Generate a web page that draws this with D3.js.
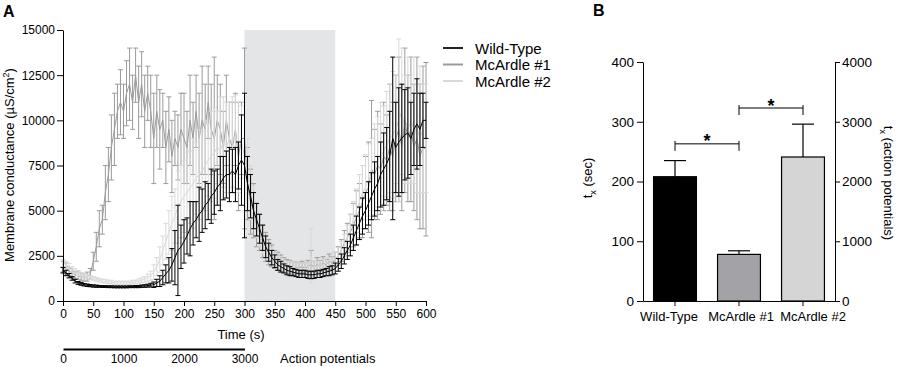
<!DOCTYPE html>
<html>
<head>
<meta charset="utf-8">
<script src="https://cdn.jsdelivr.net/npm/d3@7"></script>
<style>
  body { margin: 0; background: #fff; }
  svg { display: block; font-family: "Liberation Sans", Arial, sans-serif; }
</style>
</head>
<body>
<svg id="chart" width="897" height="367"></svg>
<script>
// Panel A: membrane conductance, one reading every 5 s (0..600 s)
var times = d3.range(0, 601, 5);

var wtMean = [
  1700,1550,1400,1250,1100,1000,950,900,870,850,
  830,820,810,800,800,790,790,780,780,780,
  780,780,790,790,800,800,820,830,850,880,
  900,1000,1100,1300,1500,1700,2000,2400,2800,3000,
  3300,3600,4000,4300,4500,4800,5000,5300,5500,5800,
  6000,6300,6500,6800,7000,7000,7200,7000,7500,7800,
  7500,6500,5800,5000,4500,4000,3500,3000,2700,2400,
  2200,2000,1900,1800,1700,1650,1600,1550,1500,1500,
  1500,1450,1450,1450,1500,1500,1550,1600,1650,1700,
  1800,2000,2200,2500,2800,3100,3500,3900,4300,4700,
  5000,5400,5800,6200,6500,7000,7300,7600,8000,9000,
  8500,8800,9000,9200,9300,9000,9500,9800,9500,10000,
  10000
];
var wtErr = [
  150,150,120,100,100,80,80,70,70,60,
  60,60,50,50,50,50,50,50,50,50,
  50,50,50,50,60,60,60,70,80,100,
  150,200,300,400,500,700,900,1500,2500,1200,
  1200,1000,1500,1200,1000,1500,1200,1300,1000,1500,
  1200,1000,1500,1200,1300,1500,1200,1500,1300,2500,
  4000,1500,1200,1000,900,800,700,600,500,400,
  350,300,300,250,250,250,200,200,200,200,
  200,200,200,200,200,200,200,200,250,250,
  300,350,400,450,500,600,700,800,900,1000,
  1000,1200,1300,1500,1500,1800,2000,2000,2500,4500,
  2500,3000,3000,2500,2500,2000,2000,2500,2000,1500,
  1000
];

var mc1Mean = [
  1900,1800,1650,1550,1450,1400,1350,1300,1350,1500,
  2200,3000,4000,4500,6000,7000,8500,9500,10500,11000,
  10500,11500,12000,11000,12500,11000,12000,10500,11500,10500,
  9000,10500,9500,10000,8500,9500,8000,9000,8500,9500,
  9000,8500,10000,9000,10500,9000,10000,9500,11000,9500,
  9000,10000,9500,8500,10000,9000,8500,9500,8000,9000,
  9000,6500,5500,5000,4200,3800,3300,3000,2700,2500,
  2300,2200,2100,2000,1900,1900,1800,1850,1800,1900,
  1800,1900,2000,1900,2000,1950,2100,2000,2200,2100,
  2300,2500,2800,3200,3500,3800,4200,4600,5000,5500,
  6000,6300,7300,7000,7500,7300,8000,7800,8500,8000,
  9000,9500,8500,10000,9000,9500,8500,9000,8000,8500,
  8400
];
var mc1Err = [
  300,300,250,250,200,200,200,200,250,300,
  500,800,1000,800,1500,1500,1800,2000,1500,1800,
  1500,1800,2000,1500,1500,2000,1800,2000,1500,2000,
  2500,2000,2200,1500,2000,1800,2000,1500,1800,2000,
  2500,2000,2500,2000,2000,2500,3000,2500,2000,2500,
  4500,2500,2500,2000,2500,2000,2500,2000,3000,2000,
  5000,2000,1800,1500,1200,1000,900,800,700,600,
  500,500,450,400,400,350,350,300,300,300,
  300,350,800,300,400,300,350,300,400,350,
  400,500,600,700,800,1000,1200,1500,1500,2000,
  2000,2500,3800,2500,3000,2500,3000,2500,3500,3000,
  3500,4000,3500,4000,3500,4000,3500,4500,4000,4500,
  4800
];

var mc2Mean = [
  2100,2000,1900,1750,1650,1550,1450,1400,1350,1300,
  1250,1200,1150,1100,1100,1050,1050,1000,1000,1000,
  1000,1000,1000,1050,1050,1100,1150,1200,1300,1400,
  1600,1900,2300,2800,3300,3800,4300,4700,5200,5500,
  5800,6000,6300,6500,6800,7000,7200,7500,7800,8000,
  8200,8500,8300,8800,8500,9000,8800,9200,8500,8800,
  8000,7000,6000,5200,4500,3800,3300,3000,2700,2500,
  2300,2200,2100,2000,1900,1900,1850,1800,1800,1800,
  1800,1800,2500,1900,1900,2000,2000,2100,2100,2200,
  2300,2500,2800,3100,3500,4000,4500,5000,5500,6000,
  6300,6700,7000,7300,7700,8000,8300,8600,9000,9200,
  9500,10000,10500,9500,10000,9500,10000,9000,9500,9000,
  9000
];
var mc2Err = [
  200,200,180,160,150,140,130,120,110,100,
  100,100,100,100,100,100,100,100,100,100,
  100,100,100,100,100,120,130,150,200,250,
  400,500,700,800,1000,1200,1500,1500,2000,2000,
  2000,2200,2000,2500,2000,2500,2200,2500,2000,2500,
  2500,2000,3000,2500,2500,2000,2500,2200,2500,2000,
  3000,2000,1500,1200,1000,800,700,600,500,450,
  400,400,350,350,300,300,300,300,300,300,
  300,300,1500,300,300,300,300,300,300,350,
  400,450,500,600,700,800,1000,1200,1500,1500,
  1800,2000,2000,2500,2500,3000,2500,3000,3000,3500,
  3000,4500,3500,3000,3500,3000,3500,3000,3500,3000,
  3000
];

var seriesNames = ["Wild-Type", "McArdle #1", "McArdle #2"];
var yTicksA = [0, 2500, 5000, 7500, 10000, 12500, 15000];
var xTicksA = d3.range(0, 601, 50);
var apTicks = [0, 1000, 2000, 3000];
var stimWindow = [300, 450];

// Panel B: t_x per group
var groups = ["Wild-Type", "McArdle #1", "McArdle #2"];
var txMean = [208, 78, 241];
var txErr = [27, 6, 55];
var yTicksB = [0, 100, 200, 300, 400];
var yTicksB2 = [0, 1000, 2000, 3000, 4000];
var sigPairs = [[0, 1, 263], [1, 2, 323]];

var lineColors = ["#000000", "#9b9b9b", "#d9d9d9"];
var barColors = ["#000000", "#a3a3a7", "#d5d5d5"];

var svg = d3.select("#chart");
var font = '"Liberation Sans", Arial, sans-serif';
var fmt = d3.format("d");

// ---------- Panel A ----------
var x = d3.scaleLinear().domain([0, 600]).range([63, 426]);
var y = d3.scaleLinear().domain([0, 15000]).range([301, 30]);

svg.append("rect")
  .attr("x", x(stimWindow[0]))
  .attr("y", y(15000))
  .attr("width", x(stimWindow[1]) - x(stimWindow[0]))
  .attr("height", y(0) - y(15000))
  .attr("fill", "#e4e5e7");

var series = [
  { mean: mc1Mean, err: mc1Err, color: lineColors[1] },
  { mean: mc2Mean, err: mc2Err, color: lineColors[2] },
  { mean: wtMean, err: wtErr, color: lineColors[0] }
];

var line = d3.line()
  .x(function(d) { return x(d.t); })
  .y(function(d) { return y(d.m); });

series.forEach(function(s) {
  var pts = times.map(function(t, i) { return { t: t, m: s.mean[i], e: s.err[i] }; });
  var g = svg.append("g").attr("stroke", s.color).attr("fill", "none").attr("stroke-width", 1);
  g.append("path").attr("d", line(pts));
  var eb = g.selectAll("g.eb").data(pts).enter().append("g");
  eb.append("line")
    .attr("x1", d => x(d.t)).attr("x2", d => x(d.t))
    .attr("y1", d => y(d.m - d.e)).attr("y2", d => y(d.m + d.e));
  eb.append("line")
    .attr("x1", d => x(d.t) - 2.5).attr("x2", d => x(d.t) + 2.5)
    .attr("y1", d => y(d.m + d.e)).attr("y2", d => y(d.m + d.e));
  eb.append("line")
    .attr("x1", d => x(d.t) - 2.5).attr("x2", d => x(d.t) + 2.5)
    .attr("y1", d => y(d.m - d.e)).attr("y2", d => y(d.m - d.e));
});

function styleAxis(g, size) {
  g.attr("font-family", font).attr("font-size", size);
  g.selectAll("text").attr("fill", "#000");
  g.selectAll("line,path").attr("stroke", "#000");
}

svg.append("g")
  .attr("transform", "translate(63,0)")
  .call(d3.axisLeft(y).tickValues(yTicksA).tickSize(6).tickSizeOuter(0).tickPadding(2).tickFormat(fmt))
  .call(styleAxis, 12);

svg.append("g")
  .attr("transform", "translate(0,301)")
  .call(d3.axisBottom(x).tickValues(xTicksA).tickSize(5).tickSizeOuter(0).tickPadding(3).tickFormat(fmt))
  .call(styleAxis, 12);

svg.append("text").attr("x", 241).attr("y", 339).attr("text-anchor", "middle")
  .attr("font-size", 13).text("Time (s)");

// action potential scale (5 Hz stimulation -> 3000 APs at 300 s)
var xAP = d3.scaleLinear().domain([0, 3000]).range([x(0), x(300)]);
var apAxis = svg.append("g")
  .attr("transform", "translate(0,349)")
  .call(d3.axisBottom(xAP).tickValues(apTicks).tickSize(0).tickPadding(5).tickFormat(fmt))
  .call(styleAxis, 12);
apAxis.select("path.domain").attr("stroke-width", 2);

svg.append("text").attr("x", 280).attr("y", 363).attr("font-size", 13).text("Action potentials");

var yLab = svg.append("text")
  .attr("transform", "translate(14,165) rotate(-90)")
  .attr("text-anchor", "middle").attr("font-size", 13);
yLab.append("tspan").text("Membrane conductance (\u00b5S/cm");
yLab.append("tspan").attr("dy", -5).attr("font-size", 9).text("2");
yLab.append("tspan").attr("dy", 5).text(")");

// legend
var leg = svg.append("g").attr("transform", "translate(443,48)");
seriesNames.forEach(function(n, i) {
  var yy = i * 16.5;
  leg.append("line").attr("x1", 0).attr("x2", 20).attr("y1", yy).attr("y2", yy)
    .attr("stroke", i === 0 ? "#222" : lineColors[i]).attr("stroke-width", 2);
  leg.append("text").attr("x", 32).attr("y", yy + 5.5).attr("font-size", 15).text(n);
});

svg.append("text").attr("x", 3).attr("y", 17).attr("font-size", 16).attr("font-weight", "bold").text("A");

// ---------- Panel B ----------
var xb = d3.scaleBand().domain(groups).range([643, 835]).paddingInner(0.33).paddingOuter(0.165);
var yb = d3.scaleLinear().domain([0, 400]).range([301, 62]);
var yb2 = d3.scaleLinear().domain([0, 4000]).range([301, 62]);

var bars = svg.append("g");
groups.forEach(function(gname, i) {
  var cx = xb(gname) + xb.bandwidth() / 2;
  bars.append("line").attr("x1", cx).attr("x2", cx)
    .attr("y1", yb(txMean[i])).attr("y2", yb(txMean[i] + txErr[i]))
    .attr("stroke", "#000").attr("stroke-width", 1.2);
  bars.append("line").attr("x1", cx - 11).attr("x2", cx + 11)
    .attr("y1", yb(txMean[i] + txErr[i])).attr("y2", yb(txMean[i] + txErr[i]))
    .attr("stroke", "#000").attr("stroke-width", 1.2);
  bars.append("rect")
    .attr("x", xb(gname)).attr("y", yb(txMean[i]))
    .attr("width", xb.bandwidth()).attr("height", yb(0) - yb(txMean[i]))
    .attr("fill", barColors[i]).attr("stroke", "#000").attr("stroke-width", 1.2);
});

svg.append("g")
  .attr("transform", "translate(643,0)")
  .call(d3.axisLeft(yb).tickValues(yTicksB).tickSize(6).tickSizeOuter(0).tickPadding(3).tickFormat(fmt))
  .call(styleAxis, 13.5);

svg.append("g")
  .attr("transform", "translate(835,0)")
  .call(d3.axisRight(yb2).tickValues(yTicksB2).tickSize(5).tickSizeOuter(0).tickPadding(2).tickFormat(fmt))
  .call(styleAxis, 13.5);

// category labels sit slightly spread apart so they do not collide
var labelShift = [-6, 2, 10];
svg.append("g")
  .attr("transform", "translate(0,301)")
  .call(d3.axisBottom(xb).tickSize(5).tickSizeOuter(0).tickPadding(6))
  .call(styleAxis, 13)
  .selectAll(".tick text").attr("dx", function(d, i) { return labelShift[i]; });

// significance brackets
sigPairs.forEach(function(p) {
  var x1 = xb(groups[p[0]]) + xb.bandwidth() / 2;
  var x2 = xb(groups[p[1]]) + xb.bandwidth() / 2;
  var yy = yb(p[2]);
  var g = svg.append("g").attr("stroke", "#000").attr("stroke-width", 1);
  g.append("line").attr("x1", x1).attr("x2", x2).attr("y1", yy).attr("y2", yy);
  g.append("line").attr("x1", x1).attr("x2", x1).attr("y1", yy - 3).attr("y2", yy + 7);
  g.append("line").attr("x1", x2).attr("x2", x2).attr("y1", yy - 3).attr("y2", yy + 7);
  svg.append("text").attr("x", (x1 + x2) / 2).attr("y", yy + 3.5)
    .attr("text-anchor", "middle").attr("font-size", 18).attr("font-weight", "bold").text("*");
});

var lLab = svg.append("text").attr("transform", "translate(592,178) rotate(-90)")
  .attr("text-anchor", "middle").attr("font-size", 13);
lLab.append("tspan").text("t");
lLab.append("tspan").attr("dy", 4).attr("font-size", 9).text("x");
lLab.append("tspan").attr("dy", -4).text(" (sec)");

var rLab = svg.append("text").attr("transform", "translate(884,183) rotate(90)")
  .attr("text-anchor", "middle").attr("font-size", 13);
rLab.append("tspan").text("t");
rLab.append("tspan").attr("dy", 4).attr("font-size", 9).text("x");
rLab.append("tspan").attr("dy", -4).text(" (action potentials)");

svg.append("text").attr("x", 593).attr("y", 16).attr("font-size", 16).attr("font-weight", "bold").text("B");

svg.selectAll("text").attr("font-family", font);
</script>
</body>
</html>
